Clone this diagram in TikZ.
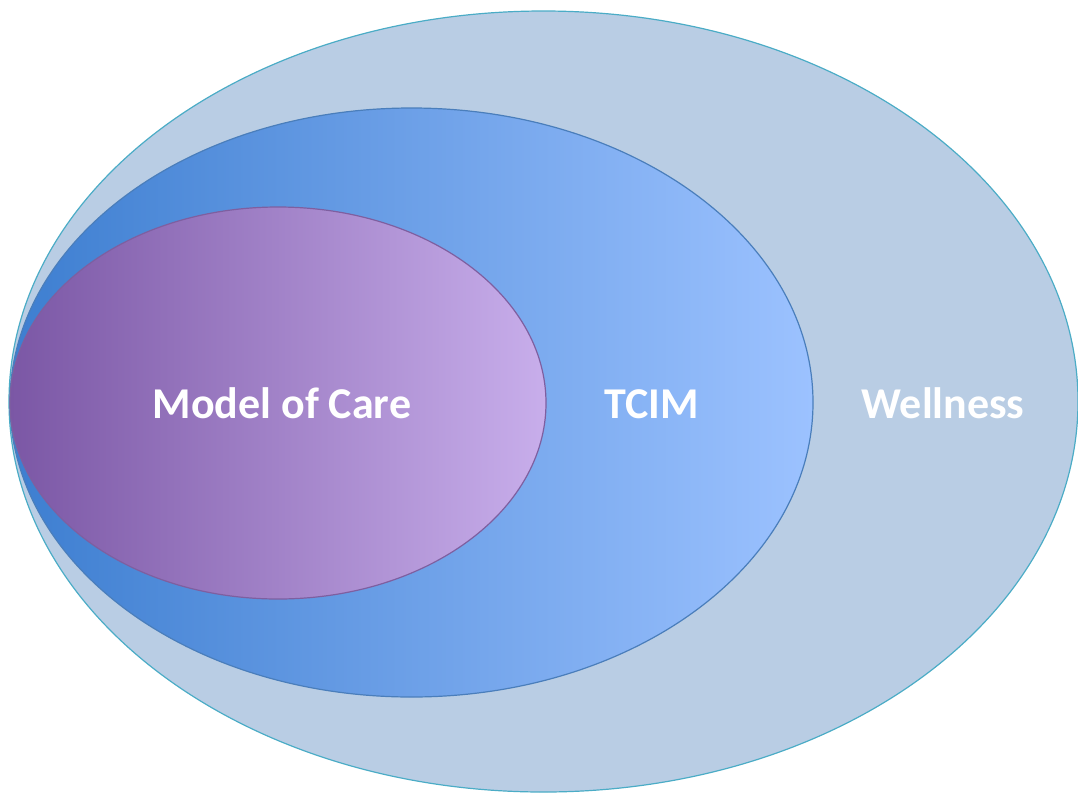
\documentclass[tikz,border=0pt]{standalone}
\usepackage{fontspec}
\setmainfont{Carlito}
\begin{document}
\begin{tikzpicture}[x=1pt,y=-1pt,
  lbl/.style={text=white,font=\fontsize{44}{52}\selectfont\bfseries,anchor=base,inner sep=0pt}]
\useasboundingbox (0,0) rectangle (1078,793);
\definecolor{outerfill}{HTML}{B9CDE4}
\definecolor{outerline}{HTML}{4BACC6}
\definecolor{midleft}{HTML}{3D7ED0}
\definecolor{midright}{HTML}{9CC2FF}
\definecolor{midline}{HTML}{4A7EBB}
\definecolor{inleft}{HTML}{7B57A5}
\definecolor{inright}{HTML}{C8AEEB}
\definecolor{inline}{HTML}{7E5FA0}
\path[fill=outerfill,draw=outerline,line width=1.2pt] (543.5,401.5) ellipse [x radius=534.5,y radius=390.5];
\path[left color=midleft,right color=midright,draw=midline,line width=1.2pt] (411.5,402.5) ellipse [x radius=401.5,y radius=294.5];
\path[left color=inleft,right color=inright,draw=inline,line width=1.2pt] (278,403) ellipse [x radius=268,y radius=196];
\node[lbl] (moc) at (282,418) {Model of Care};
\node[lbl] (tcim) at (652,418) {TCIM};
\node[lbl] (well) at (943,418) {Wellness};
\end{tikzpicture}
\end{document}
